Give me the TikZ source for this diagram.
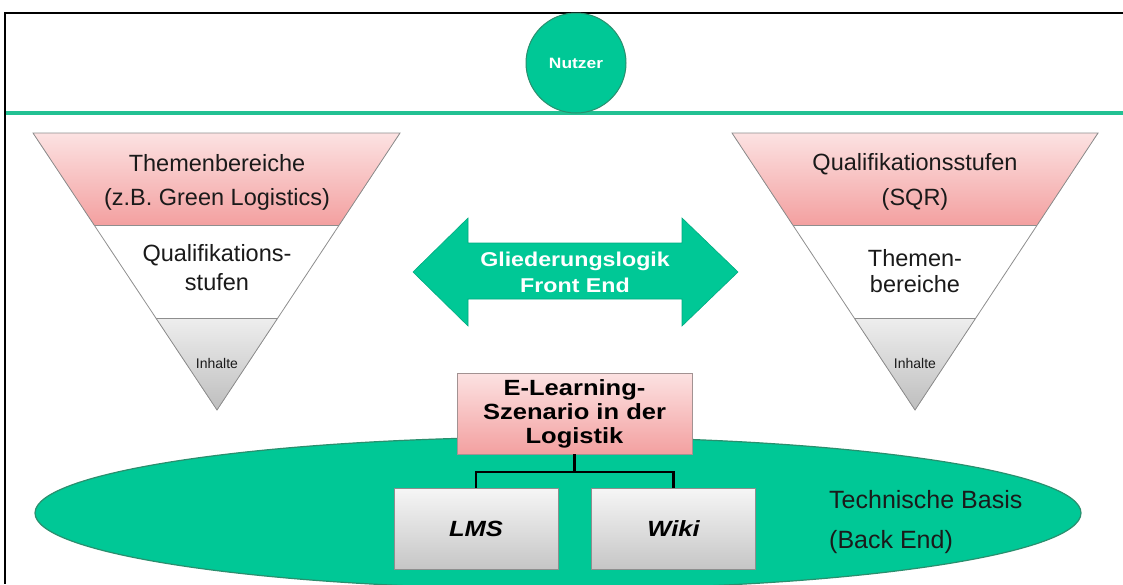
\documentclass[tikz,border=0pt]{standalone}
\usepackage{fontspec}
\setmainfont{Liberation Sans}
\newfontfamily\widefont[FakeStretch=1.16]{Liberation Sans}
\usetikzlibrary{calc,shapes.geometric}
\definecolor{grn}{HTML}{00C896}
\definecolor{grnline}{HTML}{22C193}
\definecolor{grnborder}{HTML}{2A8F6E}
\definecolor{pinktop}{HTML}{FCE2E2}
\definecolor{pinkbot}{HTML}{F3A0A0}
\definecolor{graytop}{HTML}{EEEEEE}
\definecolor{graybot}{HTML}{BEBEBE}
\definecolor{boxtop}{HTML}{F6F6F6}
\definecolor{boxbot}{HTML}{C6C6C6}
\definecolor{edge}{HTML}{8E8E8E}
\definecolor{txt}{HTML}{1A1A1A}
\begin{document}
\begin{tikzpicture}[x=1pt,y=-1pt,
  tri/.style={draw=edge,line width=0.8pt},
  lbl/.style={align=center,text=txt,inner sep=0pt},
  small/.style={text=txt,inner sep=0pt,font=\fontsize{14}{16}\selectfont},
  greybox/.style={draw=edge,line width=0.8pt,top color=boxtop,bottom color=boxbot,
    minimum width=164pt,minimum height=81pt,inner sep=0pt,text=black,
    font=\widefont\bfseries\itshape\fontsize{22}{24}\selectfont},
  pinkbox/.style={draw=edge!80!pinkbot,line width=0.8pt,top color=pinktop,bottom color=pinkbot,
    minimum width=235pt,minimum height=81pt,inner sep=0pt,align=center,text=black,
    font=\widefont\bfseries\fontsize{22}{24}\selectfont},
  link/.style={draw=black,line width=2.2pt}
]
\useasboundingbox (0,0) rectangle (1123,584);
\fill[white] (0,0) rectangle (1123,584);

% frame
\draw[black,line width=2.6pt] (4,13) -- (1123,13);
\draw[black,line width=2pt] (5,13) -- (5,584);

% separator line and user
\draw[grnline,line width=4pt] (6,113) -- (1123,113);
\node[circle,fill=grn,draw=grnborder,line width=1pt,minimum size=100pt,inner sep=0pt,
  text=white,font=\widefont\bfseries\fontsize{15}{17}\selectfont] (nutzer) at (576,63) {Nutzer};

% left triangle
\coordinate (LA) at (33,133);
\coordinate (LB) at (400,133);
\coordinate (LC) at (217,410);
\fill[top color=pinktop,bottom color=pinkbot] (LA) -- (LB) -- ($(LB)!0.332!(LC)$) -- ($(LA)!0.332!(LC)$) -- cycle;
\fill[top color=graytop,bottom color=graybot] ($(LA)!0.668!(LC)$) -- ($(LB)!0.668!(LC)$) -- (LC) -- cycle;
\draw[tri] (LA) -- (LB) -- (LC) -- cycle;
\draw[tri] ($(LA)!0.332!(LC)$) -- ($(LB)!0.332!(LC)$);
\draw[tri] ($(LA)!0.668!(LC)$) -- ($(LB)!0.668!(LC)$);
\node[lbl,font=\fontsize{23.5}{34}\selectfont] (lt1) at (217,182) {Themenbereiche\\(z.B. Green Logistics)};
\node[lbl,font=\fontsize{23.5}{29}\selectfont] (lt2) at (217,268) {Qualifikations-\\stufen};
\node[small] (lt3) at (217,363) {Inhalte};

% right triangle
\coordinate (RA) at (732,133);
\coordinate (RB) at (1098,133);
\coordinate (RC) at (915,410);
\fill[top color=pinktop,bottom color=pinkbot] (RA) -- (RB) -- ($(RB)!0.332!(RC)$) -- ($(RA)!0.332!(RC)$) -- cycle;
\fill[top color=graytop,bottom color=graybot] ($(RA)!0.668!(RC)$) -- ($(RB)!0.668!(RC)$) -- (RC) -- cycle;
\draw[tri] (RA) -- (RB) -- (RC) -- cycle;
\draw[tri] ($(RA)!0.332!(RC)$) -- ($(RB)!0.332!(RC)$);
\draw[tri] ($(RA)!0.668!(RC)$) -- ($(RB)!0.668!(RC)$);
\node[lbl,font=\fontsize{23.5}{35}\selectfont] (rt1) at (915,182) {Qualifikationsstufen\\(SQR)};
\node[lbl,font=\fontsize{23.5}{26}\selectfont] (rt2) at (915,271) {Themen-\\bereiche};
\node[small] (rt3) at (915,363) {Inhalte};

% double arrow
\fill[grn,draw=grn!85!black,line width=0.6pt]
  (413,272) -- (468,218) -- (468,243) -- (682,243) -- (682,218) -- (738,272)
  -- (682,326) -- (682,299) -- (468,299) -- (468,326) -- cycle;
\node[lbl,text=white,font=\widefont\bfseries\fontsize{20}{26}\selectfont] (logic) at (575,272)
  {Gliederungslogik\\Front End};

% technical basis
\node[ellipse,fill=grn,draw=grnborder,line width=1.2pt,minimum width=1046pt,minimum height=152pt,
  inner sep=0pt] (basis) at (558,513) {};
\node[lbl,align=left,anchor=north west,font=\fontsize{25}{40}\selectfont] (basistext) at (829,490)
  {Technische Basis\\(Back End)};

% scenario boxes
\node[pinkbox] (elearn) at (574.5,413.5) {E-Learning-\\Szenario in der\\Logistik};
\node[greybox] (lms) at (476,528.5) {LMS};
\node[greybox] (wiki) at (673.5,528.5) {Wiki};
\coordinate (fork) at (574.5,472);
\draw[link] (elearn.south) -- (fork);
\draw[link] (fork) -| (lms.north);
\draw[link] (fork) -| (wiki.north);
\end{tikzpicture}
\end{document}
